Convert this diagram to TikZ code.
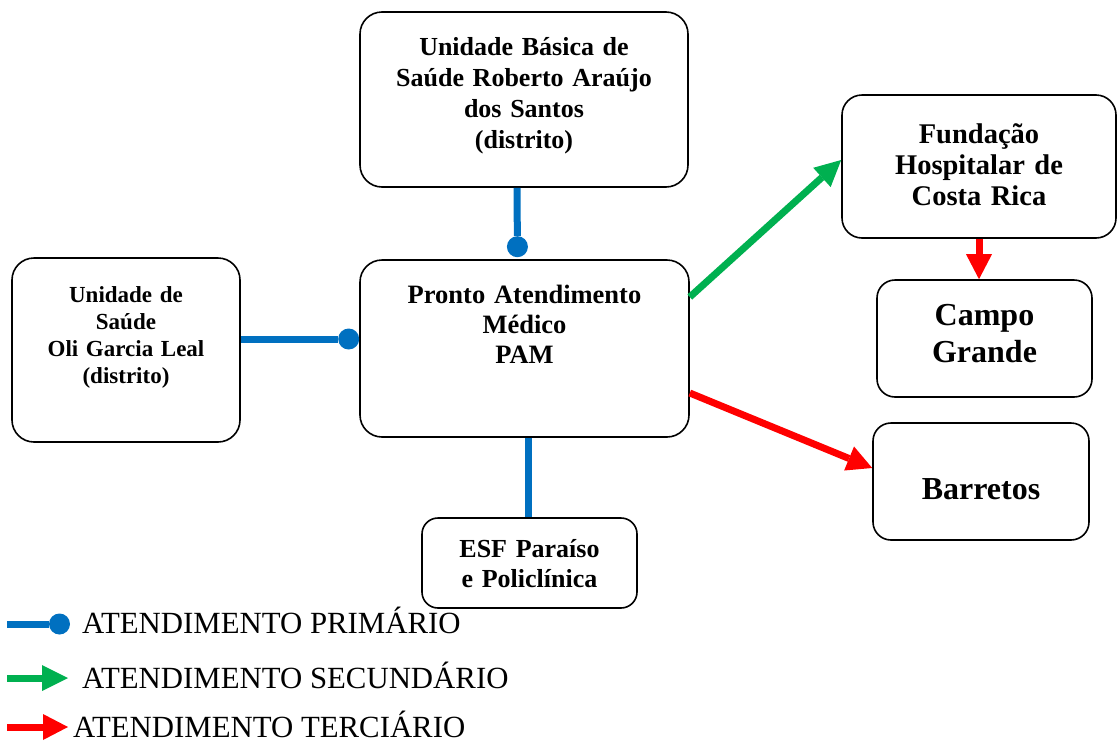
\documentclass[tikz,border=0pt]{standalone}
\usepackage{fontspec}
\setmainfont{Liberation Serif}
\usetikzlibrary{calc,arrows.meta,positioning}
\definecolor{azul}{HTML}{0070C0}
\definecolor{verde}{HTML}{00B050}
\definecolor{vermelho}{HTML}{FF0000}
\begin{document}
\begin{tikzpicture}[x=1pt,y=-1pt,
    caixa/.style={rectangle, draw, line width=1.6pt, rounded corners=22pt, align=center, inner sep=0pt},
    primario/.style={draw=azul, line width=7pt, -{Circle[length=21pt,width=21pt,line width=0pt]}},
    secundario/.style={draw=verde, line width=7pt, -{Triangle[length=26pt,width=26pt,line width=0pt]}},
    terciario/.style={draw=vermelho, line width=7pt, -{Triangle[length=25pt,width=26pt,line width=0pt]}},
    legenda/.style={anchor=base west, inner sep=0pt, font=\fontsize{30.8}{34}\selectfont}]
    \useasboundingbox (0,0) rectangle (1117,742);
    \node[caixa, text width=328pt, text height=43pt, text depth=132pt, font=\bfseries\fontsize{26}{31}\selectfont] (ubs) at (524,99.5) {Unidade Básica de\\Saúde Roberto Araújo\\dos Santos\\(distrito)};
    \node[caixa, text width=329pt, text height=43pt, text depth=134pt, font=\bfseries\fontsize{26.5}{30}\selectfont] (pam) at (524.5,348.5) {Pronto Atendimento\\Médico\\PAM};
    \node[caixa, text width=228pt, text height=44pt, text depth=140pt, font=\bfseries\fontsize{23}{27}\selectfont] (oli) at (126,350) {Unidade de\\Saúde\\Oli Garcia Leal\\(distrito)};
    \node[caixa, rounded corners=16pt, text width=215pt, text height=39pt, text depth=51pt, font=\bfseries\fontsize{26}{30}\selectfont] (esf) at (529.5,563) {ESF Paraíso\\e Policlínica};
    \node[caixa, rounded corners=20pt, text width=274pt, text height=48pt, text depth=95pt, font=\bfseries\fontsize{28.5}{31}\selectfont] (fund) at (979,166.5) {Fundação\\Hospitalar de\\Costa Rica};
    \node[caixa, rounded corners=18pt, text width=215pt, text height=45pt, text depth=72pt, font=\bfseries\fontsize{32}{37}\selectfont] (campo) at (984.5,338.5) {Campo\\Grande};
    \node[caixa, rounded corners=18pt, text width=216pt, text height=76pt, text depth=41pt, font=\bfseries\fontsize{32}{37}\selectfont] (barretos) at (981,481.5) {Barretos};

    \draw[primario] ([xshift=-7pt]ubs.south) -- ([xshift=-7pt,yshift=2pt]pam.north);
    \draw[primario] ([yshift=11pt]oli.east) -- ([yshift=9.5pt]pam.west);
    \draw[draw=azul, line width=7pt] ([xshift=-1.5pt]pam.south -| esf.north) -- ([xshift=-1.5pt]esf.north);
    \draw[secundario] ([yshift=51.5pt]pam.east) -- ([yshift=6.5pt]fund.west);
    \draw[terciario] ([yshift=-44.5pt]pam.east) -- ([yshift=13.5pt]barretos.west);
    \draw[terciario] (fund.south) -- (fund.south |- campo.north);

    \coordinate (lp) at (7,624);
    \node[legenda] (tp) at (82,633) {ATENDIMENTO PRIMÁRIO};
    \draw[primario] (lp) -- ($(lp -| tp.west)+(-12,0)$);
    \coordinate (ls) at (7,678);
    \node[legenda] (ts) at (82,688) {ATENDIMENTO SECUNDÁRIO};
    \draw[secundario] (ls) -- ($(ls -| ts.west)+(-14,0)$);
    \coordinate (lt) at (7,727);
    \node[legenda] (tt) at (73,737) {ATENDIMENTO TERCIÁRIO};
    \draw[terciario] (lt) -- ($(lt -| tt.west)+(-5,0)$);
\end{tikzpicture}
\end{document}
